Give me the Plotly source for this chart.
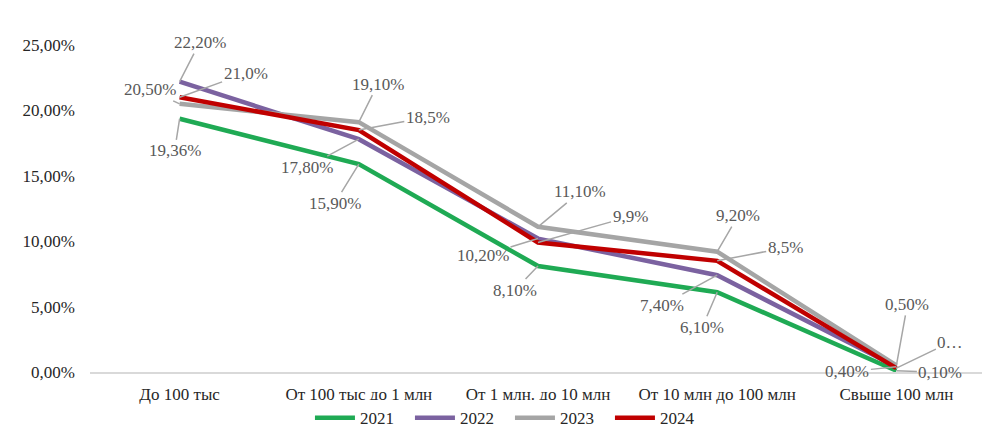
import plotly.graph_objects as go

categories = ["До 100 тыс", "От 100 тыс до 1 млн", "От 1 млн. до 10 млн",
              "От 10 млн до 100 млн", "Свыше 100 млн"]
years = ["2021", "2022", "2023", "2024"]
v2021 = [19.36, 15.90, 8.10, 6.10, 0.10]
v2022 = [22.20, 17.80, 10.20, 7.40, 0.40]
v2023 = [20.50, 19.10, 11.10, 9.20, 0.50]
v2024 = [21.0, 18.5, 9.9, 8.5, 0.3]
lbl2021 = ["19,36%", "15,90%", "8,10%", "6,10%", "0,10%"]
lbl2022 = ["22,20%", "17,80%", "10,20%", "7,40%", "0,40%"]
lbl2023 = ["20,50%", "19,10%", "11,10%", "9,20%", "0,50%"]
lbl2024 = ["21,0%", "18,5%", "9,9%", "8,5%", "0…"]
y_ticks = [0, 5, 10, 15, 20, 25]
y_tick_text = ["0,00%", "5,00%", "10,00%", "15,00%", "20,00%", "25,00%"]

FONT = "Liberation Serif, Times New Roman, serif"
colors = ["#1faa54", "#7b62a0", "#a5a5a5", "#c00000"]
series = [v2021, v2022, v2023, v2024]
labels = [lbl2021, lbl2022, lbl2023, lbl2024]
# label offsets (pixels) relative to each point
offsets = [
    [(-5, 32), (-24, 39), (-23, 24), (-15, 35), (44, 2)],
    [(20, -39), (-52, 28), (-55, 17), (-55, 30), (-49, 5)],
    [(-30, -14), (19, -38), (42, -35), (21, -36), (11, -61)],
    [(66, -24), (69, -13), (92, -26), (68, -13), (54, -26)],
]

fig = go.Figure()
for yr, vals, col in zip(years, series, colors):
    fig.add_trace(go.Scatter(x=categories, y=vals, mode="lines", name=yr,
                             line=dict(color=col, width=4.5)))

annotations = []
for vals, lbls, offs in zip(series, labels, offsets):
    for c, v, t, (ax, ay) in zip(categories, vals, lbls, offs):
        annotations.append(dict(x=c, y=v, text=t, showarrow=True, arrowhead=0,
                                arrowwidth=1.5, arrowcolor="#a6a6a6", ax=ax, ay=ay,
                                standoff=0, startstandoff=0,
                                font=dict(family=FONT, size=17, color="#595959")))

fig.update_layout(
    width=990, height=434,
    margin=dict(l=82, r=12, t=37, b=70),
    paper_bgcolor="white", plot_bgcolor="white",
    font=dict(family=FONT, size=17, color="#262626"),
    showlegend=True,
    legend=dict(orientation="h", xref="container", yref="container",
                x=0.305, y=0.055, xanchor="left", yanchor="middle",
                entrywidth=45, entrywidthmode="pixels",
                font=dict(family=FONT, size=17, color="#262626"), itemwidth=40),
    annotations=annotations,
)
fig.update_xaxes(range=[-0.5, 4.5], showgrid=False, showline=True, linecolor="#d9d9d9",
                 linewidth=1.5, ticks="", automargin=False, ticklabelstandoff=6,
                 tickfont=dict(family=FONT, size=17, color="#262626"))
fig.update_yaxes(range=[0, 25], tickvals=y_ticks, ticktext=y_tick_text,
                 showgrid=False, zeroline=False, showline=False, ticks="", automargin=False,
                 ticklabelstandoff=14, tickfont=dict(family=FONT, size=17, color="#262626"))

fig.write_html("out.html")
